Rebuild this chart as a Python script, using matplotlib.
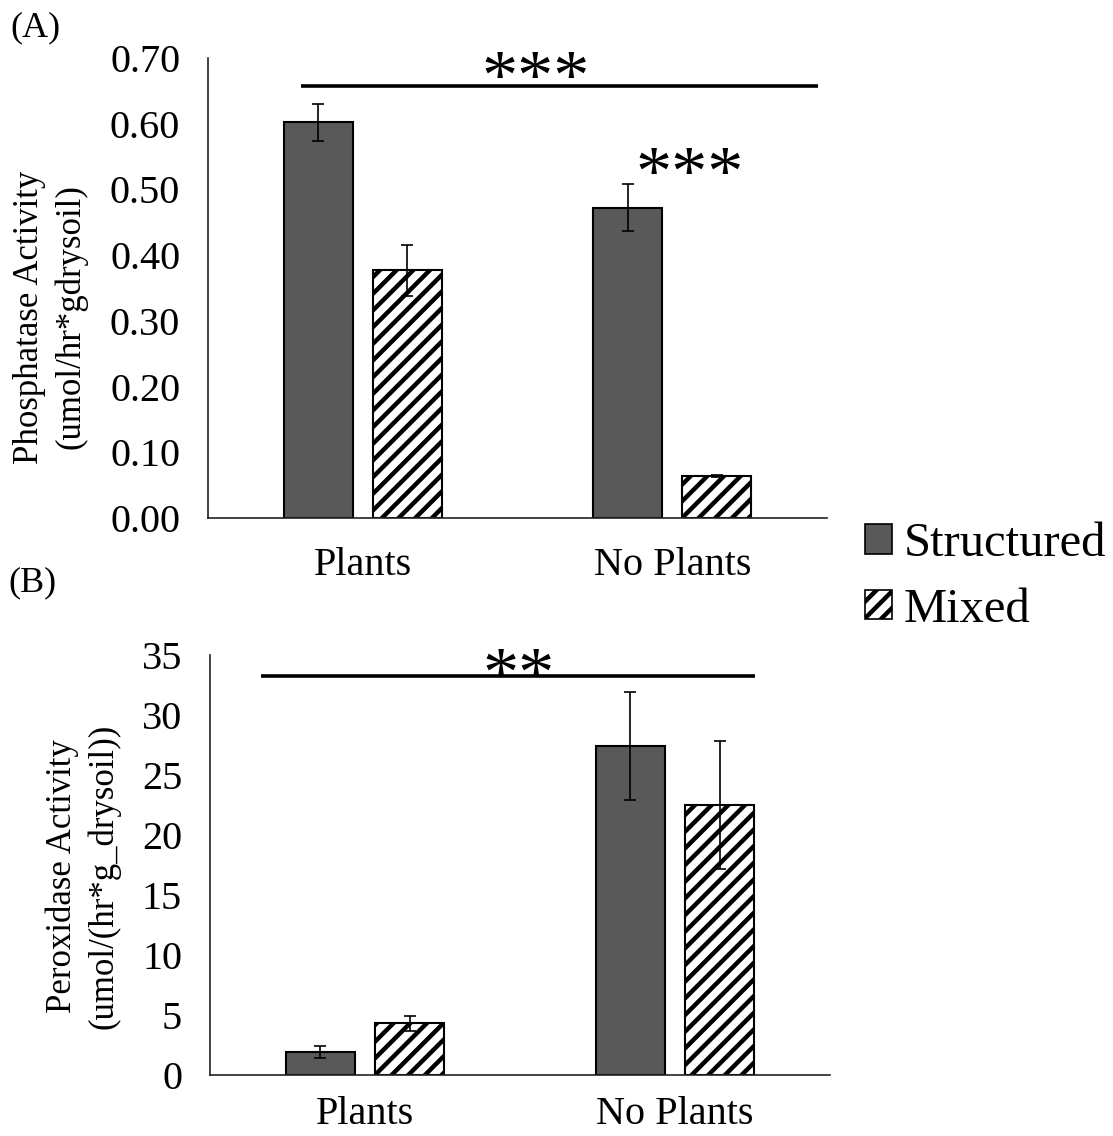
import numpy as np
import matplotlib.pyplot as plt
from matplotlib.patches import Patch

plt.rcParams['font.family'] = ['Liberation Serif', 'DejaVu Serif']
plt.rcParams['hatch.linewidth'] = 3.2

# data
groups = ["Plants", "No Plants"]
series = ["Structured", "Mixed"]

phos_structured = [0.602, 0.472]
phos_mixed = [0.377, 0.064]
phos_structured_err = [0.028, 0.036]
phos_mixed_err = [0.039, 0.002]

perox_structured = [1.9, 27.4]
perox_mixed = [4.3, 22.5]
perox_structured_err = [0.5, 4.5]
perox_mixed_err = [0.65, 5.3]

phos_ticks = [0.0, 0.1, 0.2, 0.3, 0.4, 0.5, 0.6, 0.7]
perox_ticks = [0, 5, 10, 15, 20, 25, 30, 35]

fig = plt.figure(figsize=(11.13, 11.36), dpi=100)
axA = fig.add_axes([0.1869, 0.544, 0.5562, 0.405])
axB = fig.add_axes([0.1887, 0.0537, 0.5570, 0.3697])

x = np.arange(len(groups))
w = 0.223
off = 0.144
dark = "#595959"


def draw(ax, s_vals, m_vals, s_err, m_err, ticks, fmt, ymax, xpad):
    ax.bar(x - off, s_vals, w, color=dark, edgecolor="black", linewidth=1.5,
           yerr=s_err, error_kw=dict(ecolor="black", elinewidth=1.2, capsize=4.5, capthick=1.2))
    ax.bar(x + off, m_vals, w, color="white", edgecolor="black", linewidth=1.5, hatch="//",
           yerr=m_err, error_kw=dict(ecolor="black", elinewidth=1.2, capsize=4.5, capthick=1.2))
    ax.set_xlim(-0.5, 1.5)
    ax.set_ylim(0, ymax)
    ax.set_xticks(x)
    ax.set_xticklabels(groups, fontsize=29)
    ax.set_yticks(ticks)
    ax.set_yticklabels([fmt.format(t) for t in ticks], fontsize=29)
    ax.tick_params(axis="x", length=0, pad=xpad)
    ax.tick_params(axis="y", length=0, pad=20)
    for s in ["top", "right"]:
        ax.spines[s].set_visible(False)
    for s in ["left", "bottom"]:
        ax.spines[s].set_linewidth(1.2)
        ax.spines[s].set_color("#222222")


draw(axA, phos_structured, phos_mixed, phos_structured_err, phos_mixed_err, phos_ticks, "{:.2f}", 0.70, 21)
draw(axB, perox_structured, perox_mixed, perox_structured_err, perox_mixed_err, perox_ticks, "{:d}", 35, 15)

# significance marks
axA.plot([-0.199, 1.471], [0.657, 0.657], color="black", lw=2.6, clip_on=False, solid_capstyle="butt")
axA.text(0.557, 0.638, "***", ha="center", va="baseline", fontsize=52)
axA.text(1.057, 0.492, "***", ha="center", va="baseline", fontsize=52)
axB.plot([-0.335, 1.258], [33.25, 33.25], color="black", lw=2.6, clip_on=False, solid_capstyle="butt")
axB.text(0.497, 31.6, "**", ha="center", va="baseline", fontsize=52)

# y labels and panel letters
fig.text(50 / 1113, 1 - 317 / 1136, "Phosphatase Activity\n(umol/hr*gdrysoil)",
         rotation=90, ha="center", va="center", fontsize=25, linespacing=1.3)
fig.text(83 / 1113, 1 - 876 / 1136, "Peroxidase Activity\n(umol/(hr*g_drysoil))",
         rotation=90, ha="center", va="center", fontsize=25, linespacing=1.3)
fig.text(10 / 1113, 1 - 28 / 1136, "(A)", ha="left", va="center", fontsize=26)
fig.text(8 / 1113, 1 - 583 / 1136, "(B)", ha="left", va="center", fontsize=26)

handles = [Patch(facecolor=dark, edgecolor="black", linewidth=1.2),
           Patch(facecolor="white", edgecolor="black", linewidth=1.2, hatch="//")]
fig.legend(handles, series, loc="center left", bbox_to_anchor=(865 / 1113, 1 - 577 / 1136),
           frameon=False, fontsize=35, handlelength=0.55, handleheight=0.55,
           handletextpad=0.25, labelspacing=0.45, borderaxespad=0, borderpad=0)

fig.savefig("out.png", dpi=100)
